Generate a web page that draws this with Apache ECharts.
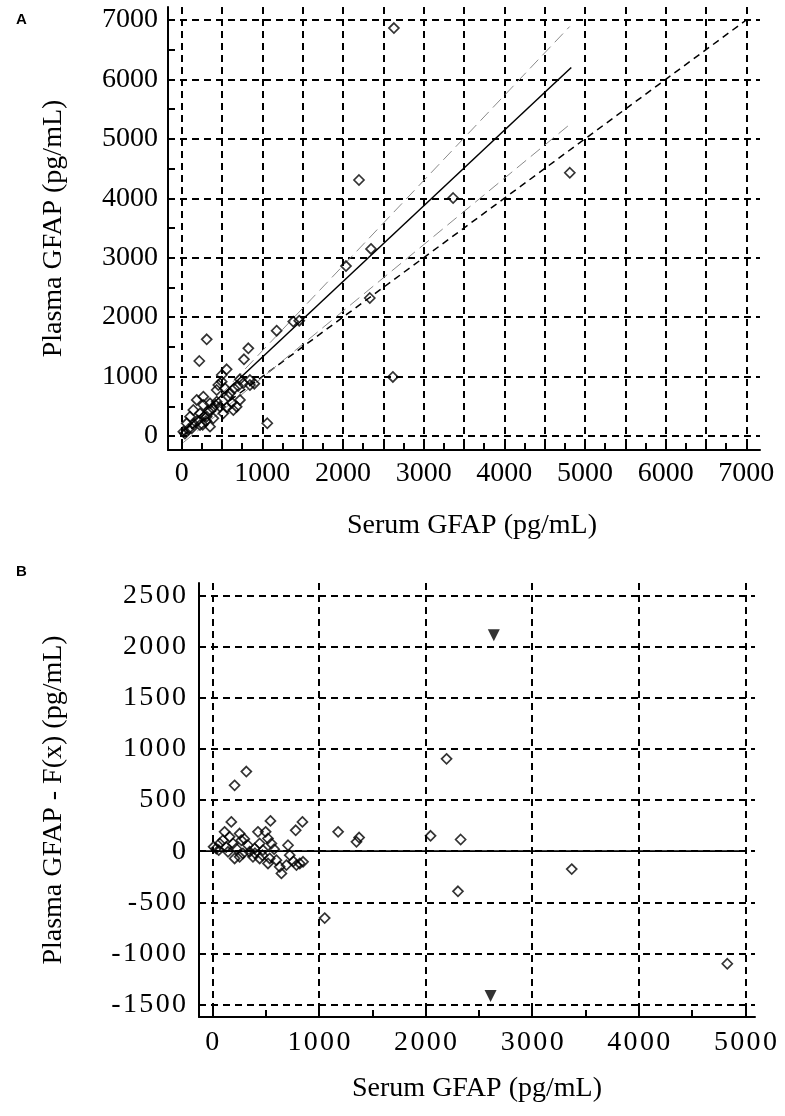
<!DOCTYPE html>
<html>
<head>
<meta charset="utf-8">
<script src="https://cdn.jsdelivr.net/npm/echarts@6/dist/echarts.min.js"></script>
<style>
  html, body { margin: 0; padding: 0; background: #fff; }
  #chart { width: 785px; height: 1116px; }
</style>
</head>
<body>
<div id="chart"></div>
<script>
// A: plasma vs serum GFAP (pg/mL)
const pointsA = [
  [2631, 6865], [4812, 4430], [2198, 4308], [3365, 4005], [2347, 3147], [2037, 2860],
  [2332, 2322], [2618, 993], [1061, 214], [1383, 1925], [1457, 1940], [1177, 1772],
  [310, 1627], [218, 1262], [826, 1475], [772, 1290], [557, 1122], [722, 954],
  [846, 858], [454, 858], [496, 914], [434, 774], [537, 802], [578, 661],
  [722, 606], [681, 493], [640, 437], [516, 381], [434, 577], [351, 550],
  [268, 521], [186, 606], [144, 437], [227, 381], [310, 325], [392, 297],
  [103, 325], [62, 213], [20, 72], [124, 130], [227, 185], [351, 157],
  [475, 493], [763, 887], [846, 942], [900, 880], [268, 661], [496, 1026],
  [150, 200], [200, 260], [280, 330], [330, 420], [380, 470], [420, 520],
  [600, 720], [650, 800], [80, 110], [40, 40], [260, 190], [300, 250],
  [560, 480], [620, 560], [700, 840]
];
const fitLineA = [[20, 80], [4830, 6200]];
const ciUpperA = [[20, 30], [4810, 6890]];
const ciLowerA = [[20, -110], [4800, 5230]];
const identityA = [[0, 0], [7000, 7000]];

// ticks; every 2nd tick carries a grid line where the grid is coarser
const xTicksA = [0, 250, 500, 750, 1000, 1250, 1500, 1750, 2000, 2250, 2500, 2750, 3000, 3250,
  3500, 3750, 4000, 4250, 4500, 4750, 5000, 5250, 5500, 5750, 6000, 6250, 6500, 6750, 7000];
const xLabelsA = [0, 1000, 2000, 3000, 4000, 5000, 6000, 7000];
const yTicksA = [0, 500, 1000, 1500, 2000, 2500, 3000, 3500, 4000, 4500, 5000, 5500, 6000, 6500, 7000];
const yLabelsA = [0, 1000, 2000, 3000, 4000, 5000, 6000, 7000];

// B: residuals, plasma GFAP - F(x)
const pointsB = [
  [209, 643], [319, 778], [178, 286], [545, 296], [845, 286], [782, 204],
  [1180, 189], [1377, 133], [1352, 91], [115, 189], [256, 172], [428, 189],
  [500, 189], [12, 43], [69, 75], [100, 107], [162, 140], [194, 75],
  [225, 26], [272, 107], [334, 58], [350, -6], [287, -22], [397, 26],
  [444, 75], [475, 10], [522, 124], [554, 75], [381, -55], [444, -71],
  [538, -71], [601, -88], [522, -120], [632, -152], [695, -136], [726, -39],
  [710, 58], [789, -136], [851, -104], [648, -217], [37, 26], [147, -6],
  [209, -71], [256, -55], [60, 10], [130, 40], [300, 120], [400, -20],
  [470, -40], [580, 20], [760, -100], [820, -120],
  [2197, 902], [2047, 150], [2329, 114], [3371, -175], [2304, -392],
  [1054, -654], [4830, -1100]
];
const offScaleB = [[2640, 2110], [2610, -1415]];
const zeroLineB = [[-125, 0], [4980, 0]];

const xTicksB = [0, 500, 1000, 1500, 2000, 2500, 3000, 3500, 4000, 4500, 5000];
const xLabelsB = [0, 1000, 2000, 3000, 4000, 5000];
const yTicksB = [-1500, -1000, -500, 0, 500, 1000, 1500, 2000, 2500];
const yLabelsB = [-1500, -1000, -500, 0, 500, 1000, 1500, 2000, 2500];

const FONT = 'Liberation Serif';
const NONE = 'rgba(0,0,0,0)';

function spaced(v) {
  return String(v).split('').join('\u200a');
}

function axis(gridIndex, opts) {
  return {
    type: 'value',
    gridIndex,
    min: opts.min,
    max: opts.max,
    name: opts.name,
    nameLocation: 'middle',
    nameGap: opts.nameGap,
    nameTextStyle: { fontFamily: FONT, fontSize: 28, color: '#000', padding: opts.namePad || 0 },
    axisLine: { show: true, onZero: false, lineStyle: { color: '#000', width: 2 } },
    axisTick: { show: true, inside: true, length: 7, customValues: opts.ticks,
      lineStyle: { color: '#000', width: 2 } },
    axisLabel: { customValues: opts.labels, margin: opts.margin,
      fontFamily: FONT, fontSize: 28, color: '#000',
      formatter: opts.spaced ? spaced : (v) => String(v) },
    // split lines follow the ticks; colour cycle hides every other one
    splitLine: { show: true, lineStyle: { color: opts.every2 ? ['#000', NONE] : '#000', width: 2, type: [7, 5] } },
    minorTick: { show: false },
    minorSplitLine: { show: false }
  };
}

function segment(data, style, xi, yi) {
  return {
    type: 'line', data, xAxisIndex: xi, yAxisIndex: yi,
    symbol: 'none', silent: true, animation: false,
    lineStyle: style, z: 4
  };
}

const markerStyle = { color: NONE, borderColor: '#000', borderWidth: 1.7 };

const chart = echarts.init(document.getElementById('chart'), null, { renderer: 'canvas' });

chart.setOption({
  backgroundColor: '#fff',
  animation: false,
  title: [
    { text: 'A', left: 11, top: 7, textStyle: { fontFamily: 'Liberation Sans', fontWeight: 'bold', fontSize: 15, color: '#000' } },
    { text: 'B', left: 11, top: 559, textStyle: { fontFamily: 'Liberation Sans', fontWeight: 'bold', fontSize: 15, color: '#000' } }
  ],
  grid: [
    { left: 168, right: 25, top: 7, bottom: 666 },
    { left: 199, right: 30, top: 583, bottom: 99 }
  ],
  xAxis: [
    axis(0, { min: -170, max: 7170, name: 'Serum GFAP (pg/mL)', nameGap: 62, margin: 10,
      namePad: [0, 0, 0, 16], ticks: xTicksA, labels: xLabelsA, every2: true }),
    axis(1, { min: -125, max: 5090, name: 'Serum GFAP (pg/mL)', nameGap: 58, margin: 12,
      ticks: xTicksB, labels: xLabelsB, every2: true, spaced: true })
  ],
  yAxis: [
    axis(0, { min: -236, max: 7219, name: 'Plasma GFAP (pg/mL)', nameGap: 100, margin: 10,
      ticks: yTicksA, labels: yLabelsA, every2: true }),
    axis(1, { min: -1620, max: 2620, name: 'Plasma GFAP - F(x) (pg/mL)', nameGap: 131, margin: 13,
      ticks: yTicksB, labels: yLabelsB, spaced: true })
  ],
  series: [
    segment(identityA, { color: '#000', width: 1.5, type: [7, 5] }, 0, 0),
    segment(ciUpperA, { color: '#8a8a8a', width: 1, type: [12, 6] }, 0, 0),
    segment(ciLowerA, { color: '#8a8a8a', width: 1, type: [12, 6] }, 0, 0),
    segment(fitLineA, { color: '#000', width: 1.5 }, 0, 0),
    {
      type: 'scatter', data: pointsA, xAxisIndex: 0, yAxisIndex: 0,
      symbol: 'diamond', symbolSize: 10, z: 5, itemStyle: markerStyle
    },
    segment(zeroLineB, { color: '#000', width: 1.8, type: 'solid' }, 1, 1),
    {
      type: 'scatter', data: pointsB, xAxisIndex: 1, yAxisIndex: 1,
      symbol: 'diamond', symbolSize: 10, z: 5, itemStyle: markerStyle
    },
    {
      type: 'scatter', data: offScaleB, xAxisIndex: 1, yAxisIndex: 1,
      symbol: 'triangle', symbolRotate: 180, symbolSize: 12, z: 5,
      itemStyle: { color: '#000' }
    }
  ]
});
</script>
</body>
</html>
